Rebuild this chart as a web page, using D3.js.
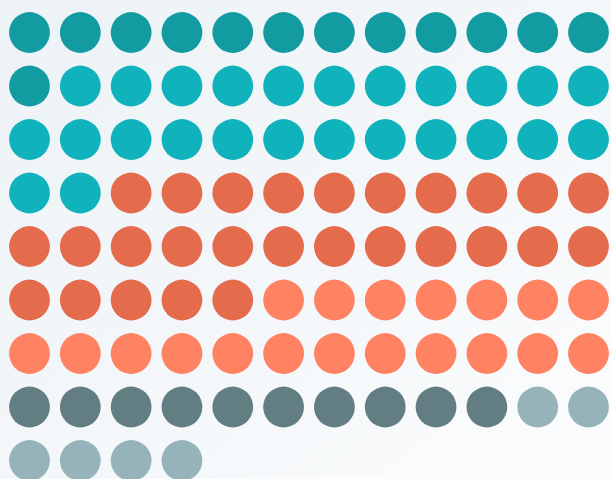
<!DOCTYPE html>
<html>
<head>
<meta charset="utf-8">
<script src="https://cdn.jsdelivr.net/npm/d3@7"></script>
<style>
  html, body { margin: 0; padding: 0; overflow: hidden; }
</style>
</head>
<body>
<script>
const groups = ['Group A', 'Group B', 'Group C', 'Group D', 'Group E', 'Group F'];
const counts = [13, 25, 27, 19, 10, 6];
const colors = ['#129ca2', '#10b3bb', '#e56b4d', '#ff8263', '#627e82', '#95b3b8'];
const columns = 12;

const width = 611, height = 479;

const svg = d3.select('body').append('svg')
    .attr('width', width)
    .attr('height', height);

const defs = svg.append('defs');
const grad = defs.append('linearGradient')
    .attr('id', 'bg')
    .attr('x1', '0%').attr('y1', '0%')
    .attr('x2', '100%').attr('y2', '100%');
grad.append('stop').attr('offset', '0%').attr('stop-color', '#ecf2f6');
grad.append('stop').attr('offset', '100%').attr('stop-color', '#fbfcfd');

svg.append('rect')
    .attr('width', width)
    .attr('height', height)
    .attr('fill', 'url(#bg)');

// one entry per dot
const dots = [];
groups.forEach((g, i) => {
    for (let k = 0; k < counts[i]; k++) dots.push({ group: g });
});
dots.forEach((d, i) => {
    d.col = i % columns;
    d.row = Math.floor(i / columns);
});

const rows = Math.ceil(dots.length / columns);

const x = d3.scaleLinear().domain([0, columns - 1]).range([29.5, 588.5]);
const y = d3.scaleLinear().domain([0, rows - 1]).range([32.5, 460.5]);
const color = d3.scaleOrdinal().domain(groups).range(colors);

svg.append('g')
    .selectAll('circle')
    .data(dots)
    .enter()
    .append('circle')
    .attr('cx', d => x(d.col))
    .attr('cy', d => y(d.row))
    .attr('r', 20.4)
    .attr('fill', d => color(d.group));
</script>
</body>
</html>
